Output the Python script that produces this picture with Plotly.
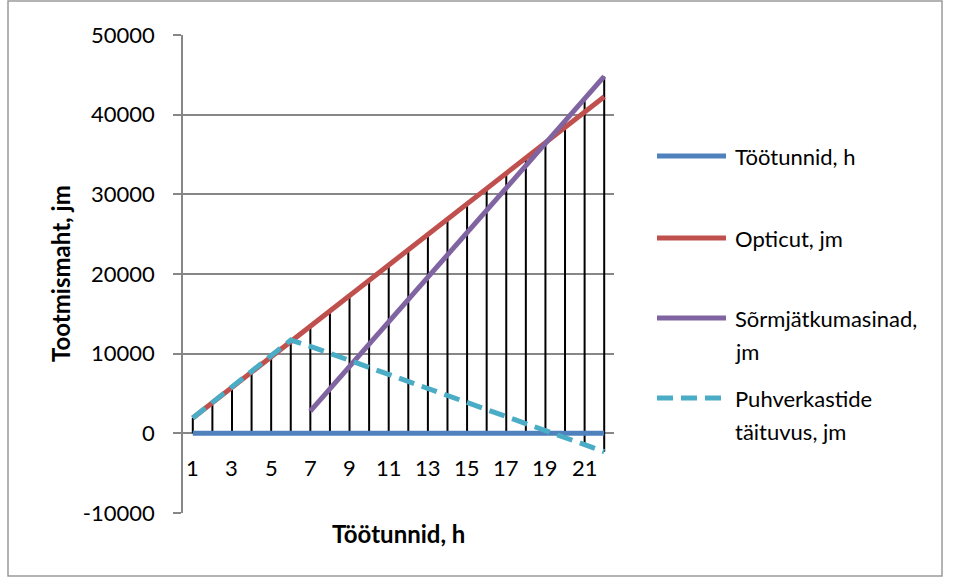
import plotly.graph_objects as go

# Hours of work (category axis)
hours = list(range(1, 23))

# Series values
tootunnid = [1, 2, 3, 4, 5, 6, 7, 8, 9, 10, 11, 12, 13, 14, 15, 16, 17, 18, 19, 20, 21, 22]
opticut = [1920, 3840, 5760, 7680, 9600, 11520, 13440, 15360, 17280, 19200, 21120,
           23040, 24960, 26880, 28800, 30720, 32640, 34560, 36480, 38400, 40320, 42240]
sormjatku = [None, None, None, None, None, None, 2800, 5600, 8400, 11200, 14000,
             16800, 19600, 22400, 25200, 28000, 30800, 33600, 36400, 39200, 42000, 44800]
puhver = [1920, 3840, 5760, 7680, 9600, 11700, 10920, 10040, 9160, 8280, 7400,
          6510, 5630, 4750, 3870, 2990, 2110, 1230, 350, -620, -1500, -2300]

series_names = ["Töötunnid, h", "Opticut, jm", "Sõrmjätkumasinad, jm", "Puhverkastide täituvus, jm"]
x_tick_labels = ["1", "3", "5", "7", "9", "11", "13", "15", "17", "19", "21"]
y_ticks = [-10000, 0, 10000, 20000, 30000, 40000, 50000]

colors = ["#4F81BD", "#C0504D", "#8064A2", "#4BACC6"]
FONT = "Lato"
GRID = "#878787"

fig = go.Figure()

# Drop lines: from the highest to the lowest series value at each hour
drop_x, drop_y = [], []
all_series = [tootunnid, opticut, sormjatku, puhver]
for i, h in enumerate(hours):
    vals = [s[i] for s in all_series if s[i] is not None]
    drop_x += [h, h, None]
    drop_y += [max(vals), min(vals), None]
fig.add_trace(go.Scatter(x=drop_x, y=drop_y, mode="lines",
                         line=dict(color="black", width=2), showlegend=False,
                         hoverinfo="skip"))

fig.add_trace(go.Scatter(x=hours, y=tootunnid, mode="lines", name=series_names[0],
                         line=dict(color=colors[0], width=5), showlegend=False))
fig.add_trace(go.Scatter(x=hours, y=opticut, mode="lines", name=series_names[1],
                         line=dict(color=colors[1], width=5), showlegend=False))
fig.add_trace(go.Scatter(x=hours, y=sormjatku, mode="lines", name=series_names[2],
                         line=dict(color=colors[2], width=5), showlegend=False))
fig.add_trace(go.Scatter(x=hours, y=puhver, mode="lines", name=series_names[3],
                         line=dict(color=colors[3], width=5, dash="16px,8px"),
                         showlegend=False))

annotations = []
# Category labels sitting under the zero line
for lab in x_tick_labels:
    annotations.append(dict(x=int(lab), y=0, xref="x", yref="y", text=lab,
                            showarrow=False, yshift=-34, yanchor="middle",
                            font=dict(family=FONT, size=22, color="black")))

# Axis titles
annotations.append(dict(x=0.5, y=(513 - 533) / 478, xref="paper", yref="paper",
                        text="<b>Töötunnid, h</b>", showarrow=False,
                        xanchor="center", yanchor="middle",
                        font=dict(family=FONT, size=24, color="black")))
annotations.append(dict(x=(60 - 183) / 431, y=(513 - 274) / 478, xref="paper", yref="paper",
                        text="<b>Tootmismaht, jm</b>", showarrow=False, textangle=-90,
                        xanchor="center", yanchor="middle",
                        font=dict(family=FONT, size=24, color="black")))

# Legend drawn beside the plot area
def px_x(px):
    return (px - 183) / 431

def px_y(py):
    return (513 - py) / 478

legend_rows = [
    (156, ["Töötunnid, h"], colors[0], "solid"),
    (238, ["Opticut, jm"], colors[1], "solid"),
    (318, ["Sõrmjätkumasinad,", "jm"], colors[2], "solid"),
    (398, ["Puhverkastide", "täituvus, jm"], colors[3], "16px,8px"),
]
shapes = []
for y_px, lines, col, dash in legend_rows:
    shapes.append(dict(type="line", xref="paper", yref="paper",
                       x0=px_x(657), x1=px_x(726), y0=px_y(y_px), y1=px_y(y_px),
                       line=dict(color=col, width=5, dash=dash)))
    for k, txt in enumerate(lines):
        annotations.append(dict(x=px_x(733), y=px_y(y_px + 33 * k), xref="paper", yref="paper",
                                text=txt, showarrow=False, xanchor="left", yanchor="middle",
                                font=dict(family=FONT, size=22, color="black")))

# Outer chart border
shapes.append(dict(type="rect", xref="paper", yref="paper",
                   x0=px_x(8), x1=px_x(942), y0=px_y(576), y1=px_y(1),
                   line=dict(color="#9a9a9a", width=1.5), layer="below"))

fig.update_layout(
    width=955, height=577,
    margin=dict(l=183, r=341, t=35, b=64, pad=0),
    paper_bgcolor="white", plot_bgcolor="white",
    showlegend=False,
    annotations=annotations,
    shapes=shapes,
    xaxis=dict(range=[0.5, 22.5], showticklabels=False, showgrid=False,
               zeroline=False, showline=False, ticks=""),
    yaxis=dict(range=[-10000, 50000], tickvals=y_ticks,
               ticktext=[str(v) for v in y_ticks],
               showgrid=True, gridcolor=GRID, gridwidth=1.5,
               zeroline=True, zerolinecolor=GRID, zerolinewidth=1.5,
               showline=True, linecolor=GRID, linewidth=1.5,
               ticks="outside", ticklen=8, tickcolor=GRID, tickwidth=1.5,
               ticklabelstandoff=14,
               tickfont=dict(family=FONT, size=22, color="black")),
)

fig.write_html("out.html")
